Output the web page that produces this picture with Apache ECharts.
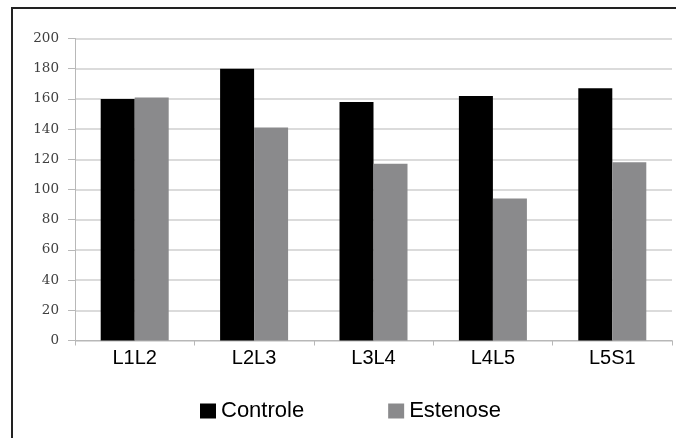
<!DOCTYPE html>
<html>
<head>
<meta charset="utf-8">
<script src="https://cdn.jsdelivr.net/npm/echarts@6/dist/echarts.min.js"></script>
<style>html,body{margin:0;padding:0;background:#fff}#c{width:676px;height:438px}</style>
</head>
<body>
<div id="c"></div>
<script>
const categories = ['L1L2', 'L2L3', 'L3L4', 'L4L5', 'L5S1'];
const controle = [160, 180, 158, 162, 167];
const estenose = [161, 141, 117, 94, 118];
const yTicks = { min: 0, max: 200, interval: 20 };

const chart = echarts.init(document.getElementById('c'), null, { renderer: 'canvas' });
chart.setOption({
  animation: false,
  backgroundColor: '#ffffff',
  graphic: [{
    type: 'polyline', silent: true, z: -1,
    shape: { points: [[12, 450], [12, 8], [690, 8]] },
    style: { fill: 'none', stroke: '#222', lineWidth: 2 }
  }],
  grid: { left: 75, right: 4, top: 38.5, bottom: 97.5 },
  legend: {
    data: ['Controle', 'Estenose'],
    left: 195, top: 395,
    itemWidth: 16, itemHeight: 15, itemGap: 84,
    icon: 'rect',
    textStyle: { fontFamily: 'Liberation Sans, Arial', fontSize: 22, color: '#000' }
  },
  xAxis: {
    type: 'category', data: categories,
    axisLine: { lineStyle: { color: '#b8b8b8', width: 1 } },
    axisTick: { show: true, length: 5, alignWithLabel: false, lineStyle: { color: '#b8b8b8' } },
    axisLabel: { margin: 8, fontFamily: 'Liberation Sans, Arial', fontSize: 20, color: '#000' }
  },
  yAxis: {
    type: 'value', min: yTicks.min, max: yTicks.max, interval: yTicks.interval,
    axisLine: { show: true, lineStyle: { color: '#b8b8b8', width: 1 } },
    axisTick: { show: true, length: 7, lineStyle: { color: '#b8b8b8' } },
    splitLine: { lineStyle: { color: '#cfcfcf', width: 1.5 } },
    axisLabel: { margin: 16, fontFamily: 'DejaVu Serif', fontSize: 13.5, color: '#404040' }
  },
  series: [
    { name: 'Controle', type: 'bar', data: controle, barWidth: 34, barGap: '0%',
      itemStyle: { color: '#000000' } },
    { name: 'Estenose', type: 'bar', data: estenose, barWidth: 34, barGap: '0%',
      itemStyle: { color: '#8a8a8c' } }
  ]
});
</script>
</body>
</html>
